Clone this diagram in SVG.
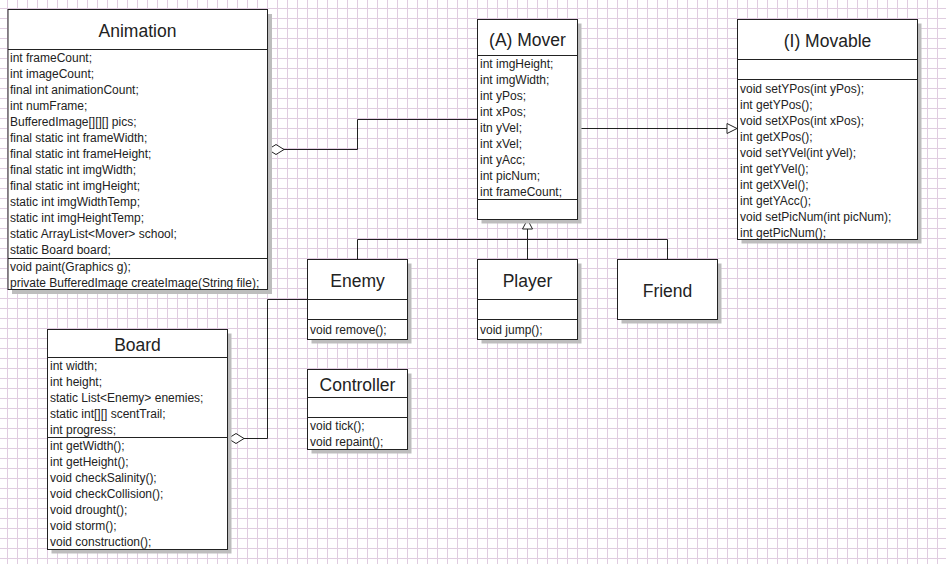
<svg xmlns="http://www.w3.org/2000/svg" width="946" height="564" viewBox="0 0 946 564">
<defs>
<pattern id="grid" x="7" y="8" width="10" height="10" patternUnits="userSpaceOnUse">
<path d="M0.5 0 V10 M0 0.5 H10" stroke="#e0cce0" stroke-width="1" fill="none"/>
</pattern>
</defs>
<style>
.box{fill:#fff;stroke:#222;stroke-width:1}
.sh{fill:#bdbdbd}
.sep{stroke:#222;stroke-width:1}
.t{font-family:"Liberation Sans",Arial,sans-serif;font-size:17.5px;fill:#222;text-anchor:middle}
.m{font-family:"Liberation Sans",Arial,sans-serif;font-size:12px;fill:#222}
.ln{fill:none;stroke:#222;stroke-width:1}
.hd{fill:#fff;stroke:#222;stroke-width:1}
</style>
<rect width="946" height="564" fill="#fff"/>
<rect width="946" height="564" fill="url(#grid)"/>

<g id="connectors">
<path class="ln" d="M284 149.5 H357.5 V119.5 H477.5"/>
<polygon class="hd" points="268,149.5 276,144.5 284,149.5 276,154.5"/>
<path class="ln" d="M577.5 128.5 H727"/>
<polygon class="hd" points="727,123.5 737,128.5 727,133.5"/>
<path class="ln" d="M527.5 229 V239.5 M357.5 259.5 V239.5 H667.5 V259.5 M527.5 239.5 V259.5"/>
<polygon class="hd" points="527.5,219.5 532.5,229 522.5,229"/>
<path class="ln" d="M307.5 299.5 H267.5 V438.5 H244"/>
<polygon class="hd" points="228,438.5 236,433.5 244,438.5 236,443.5"/>
</g>

<g id="Animation">
<rect class="sh" x="12" y="14" width="260" height="280"/>
<rect class="box" x="8" y="9.5" width="259.5" height="280"/>
<line class="sep" x1="8" y1="49.5" x2="267.5" y2="49.5"/>
<line class="sep" x1="8" y1="258.5" x2="267.5" y2="258.5"/>
<text class="t" x="137.5" y="37">Animation</text>
<text class="m" x="10" y="61.5">int frameCount;</text>
<text class="m" x="10" y="77.5">int imageCount;</text>
<text class="m" x="10" y="93.5">final int animationCount;</text>
<text class="m" x="10" y="109.5">int numFrame;</text>
<text class="m" x="10" y="125.5">BufferedImage[][][] pics;</text>
<text class="m" x="10" y="141.5">final static int frameWidth;</text>
<text class="m" x="10" y="157.5">final static int frameHeight;</text>
<text class="m" x="10" y="173.5">final static int imgWidth;</text>
<text class="m" x="10" y="189.5">final static int imgHeight;</text>
<text class="m" x="10" y="205.5">static int imgWidthTemp;</text>
<text class="m" x="10" y="221.5">static int imgHeightTemp;</text>
<text class="m" x="10" y="237.5">static ArrayList&lt;Mover&gt; school;</text>
<text class="m" x="10" y="253.5">static Board board;</text>
<text class="m" x="10" y="270.5">void paint(Graphics g);</text>
<text class="m" x="10" y="286.5">private BufferedImage createImage(String file);</text>
</g>

<g id="Mover">
<rect class="sh" x="481.5" y="23.5" width="100" height="200"/>
<rect class="box" x="477.5" y="19.5" width="100" height="200"/>
<line class="sep" x1="477.5" y1="55.5" x2="577.5" y2="55.5"/>
<line class="sep" x1="477.5" y1="199.5" x2="577.5" y2="199.5"/>
<text class="t" x="527.5" y="45.5">(A) Mover</text>
<text class="m" x="480" y="67.5">int imgHeight;</text>
<text class="m" x="480" y="83.5">int imgWidth;</text>
<text class="m" x="480" y="99.5">int yPos;</text>
<text class="m" x="480" y="115.5">int xPos;</text>
<text class="m" x="480" y="131.5">itn yVel;</text>
<text class="m" x="480" y="147.5">int xVel;</text>
<text class="m" x="480" y="163.5">int yAcc;</text>
<text class="m" x="480" y="179.5">int picNum;</text>
<text class="m" x="480" y="195.5">int frameCount;</text>
</g>

<g id="Movable">
<rect class="sh" x="741.5" y="23.5" width="180" height="220"/>
<rect class="box" x="737.5" y="19.5" width="180" height="220"/>
<line class="sep" x1="737.5" y1="59.5" x2="917.5" y2="59.5"/>
<line class="sep" x1="737.5" y1="79.5" x2="917.5" y2="79.5"/>
<text class="t" x="827.5" y="47">(I) Movable</text>
<text class="m" x="740" y="92.5">void setYPos(int yPos);</text>
<text class="m" x="740" y="108.5">int getYPos();</text>
<text class="m" x="740" y="124.5">void setXPos(int xPos);</text>
<text class="m" x="740" y="140.5">int getXPos();</text>
<text class="m" x="740" y="156.5">void setYVel(int yVel);</text>
<text class="m" x="740" y="172.5">int getYVel();</text>
<text class="m" x="740" y="188.5">int getXVel();</text>
<text class="m" x="740" y="204.5">int getYAcc();</text>
<text class="m" x="740" y="220.5">void setPicNum(int picNum);</text>
<text class="m" x="740" y="236.5">int getPicNum();</text>
</g>

<g id="Enemy">
<rect class="sh" x="311.5" y="263.5" width="100" height="80"/>
<rect class="box" x="307.5" y="259.5" width="100" height="80"/>
<line class="sep" x1="307.5" y1="299.5" x2="407.5" y2="299.5"/>
<line class="sep" x1="307.5" y1="319.5" x2="407.5" y2="319.5"/>
<text class="t" x="357.5" y="287">Enemy</text>
<text class="m" x="310" y="333.5">void remove();</text>
</g>

<g id="Player">
<rect class="sh" x="481.5" y="263.5" width="100" height="80"/>
<rect class="box" x="477.5" y="259.5" width="100" height="80"/>
<line class="sep" x1="477.5" y1="299.5" x2="577.5" y2="299.5"/>
<line class="sep" x1="477.5" y1="319.5" x2="577.5" y2="319.5"/>
<text class="t" x="527.5" y="287">Player</text>
<text class="m" x="480" y="333.5">void jump();</text>
</g>

<g id="Friend">
<rect class="sh" x="621.5" y="263.5" width="100" height="60"/>
<rect class="box" x="617.5" y="259.5" width="100" height="60"/>
<text class="t" x="667.5" y="297">Friend</text>
</g>

<g id="Board">
<rect class="sh" x="51.5" y="333.5" width="180" height="220"/>
<rect class="box" x="47.5" y="329.5" width="180" height="220"/>
<line class="sep" x1="47.5" y1="357.5" x2="227.5" y2="357.5"/>
<line class="sep" x1="47.5" y1="437.5" x2="227.5" y2="437.5"/>
<text class="t" x="137.5" y="351">Board</text>
<text class="m" x="50" y="370">int width;</text>
<text class="m" x="50" y="386">int height;</text>
<text class="m" x="50" y="402">static List&lt;Enemy&gt; enemies;</text>
<text class="m" x="50" y="418">static int[][] scentTrail;</text>
<text class="m" x="50" y="434">int progress;</text>
<text class="m" x="50" y="450">int getWidth();</text>
<text class="m" x="50" y="466">int getHeight();</text>
<text class="m" x="50" y="482">void checkSalinity();</text>
<text class="m" x="50" y="498">void checkCollision();</text>
<text class="m" x="50" y="514">void drought();</text>
<text class="m" x="50" y="530">void storm();</text>
<text class="m" x="50" y="546">void construction();</text>
</g>

<g id="Controller">
<rect class="sh" x="311.5" y="373.5" width="100" height="80"/>
<rect class="box" x="307.5" y="369.5" width="100" height="80"/>
<line class="sep" x1="307.5" y1="397.5" x2="407.5" y2="397.5"/>
<line class="sep" x1="307.5" y1="417.5" x2="407.5" y2="417.5"/>
<text class="t" x="357.5" y="391">Controller</text>
<text class="m" x="310" y="430">void tick();</text>
<text class="m" x="310" y="446">void repaint();</text>
</g>
</svg>
